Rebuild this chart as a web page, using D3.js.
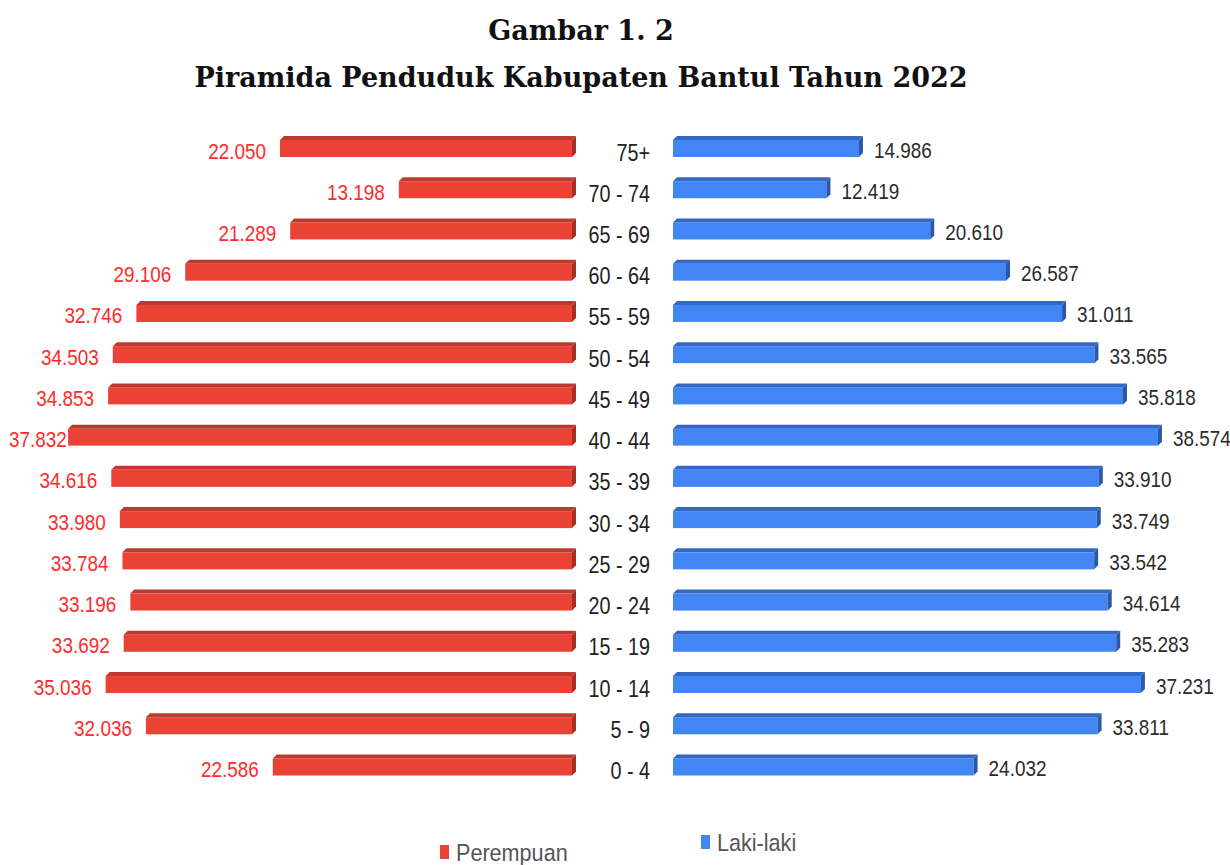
<!DOCTYPE html>
<html>
<head>
<meta charset="utf-8">
<script src="https://cdn.jsdelivr.net/npm/d3@7"></script>
<style>
  body { margin: 0; background: #fff; }
</style>
</head>
<body>
<div id="chart"></div>
<script>
// Age groups, top to bottom
var ageGroups = ['75+', '70 - 74', '65 - 69', '60 - 64', '55 - 59', '50 - 54', '45 - 49', '40 - 44',
  '35 - 39', '30 - 34', '25 - 29', '20 - 24', '15 - 19', '10 - 14', '5 - 9', '0 - 4'];

// Perempuan (female)
var femaleValues = [22050, 13198, 21289, 29106, 32746, 34503, 34853, 37832,
  34616, 33980, 33784, 33196, 33692, 35036, 32036, 22586];

// Laki-laki (male)
var maleValues = [14986, 12419, 20610, 26587, 31011, 33565, 35818, 38574,
  33910, 33749, 33542, 34614, 35283, 37231, 33811, 24032];

var seriesNames = ['Perempuan', 'Laki-laki'];

var attrs = {
  svgWidth: 1230,
  svgHeight: 865,
  femaleColor: '#ea4335',
  femaleTop: '#bf3a2e',
  femaleSide: '#a52f25',
  maleColor: '#4285f4',
  maleTop: '#3568c4',
  maleSide: '#2c58a8',
  depth: 4,
  barHeight: 21,
  labelFont: '"Liberation Sans", Arial, sans-serif',
  squeeze: 0.86
};

var svg = d3.select('#chart').append('svg')
  .attr('width', attrs.svgWidth)
  .attr('height', attrs.svgHeight);

// Title
var title = svg.append('g').attr('class', 'title')
  .attr('font-family', '"DejaVu Serif", serif')
  .attr('font-weight', 'bold')
  .attr('text-anchor', 'middle')
  .attr('fill', '#111');
title.append('text').attr('x', 581).attr('y', 40).attr('font-size', 27).text('Gambar 1. 2');
title.append('text').attr('x', 581).attr('y', 87).attr('font-size', 27).text('Piramida Penduduk Kabupaten Bantul Tahun 2022');

// Scales
var y = d3.scalePoint().domain(ageGroups).range([146.5, 765]);
var xF = d3.scaleLinear().domain([0, 40000]).range([576, 576 - 537]);
var xM = d3.scaleLinear().domain([0, 40000]).range([673, 673 + 507]);

var rows = ageGroups.map(function (g, i) {
  return { group: g, female: femaleValues[i], male: maleValues[i] };
});

var fmt = function (v) { return d3.format(',')(v).replace(/,/g, '.'); };

// condensed text (horizontal squeeze, narrow font not installed)
function squeezedText(sel, x, yy, anchor, size, color, str) {
  var t = sel.append('text')
    .attr('transform', 'translate(' + x + ',' + yy + ') scale(' + attrs.squeeze + ',1)')
    .attr('text-anchor', anchor)
    .attr('font-family', attrs.labelFont)
    .attr('font-size', size)
    .attr('fill', color)
    .text(str);
  return t;
}

// 3D-ish bar: face + top bevel + right side
function bar3d(sel, x0, x1, yc, face, top, side) {
  var d = attrs.depth, h = attrs.barHeight;
  var yt = yc - h / 2, yb = yc + h / 2;
  sel.append('rect')
    .attr('x', x0).attr('y', yt + d)
    .attr('width', x1 - d - x0).attr('height', h - d)
    .attr('fill', face);
  sel.append('path')
    .attr('d', 'M' + x0 + ',' + (yt + d) + 'L' + (x0 + d) + ',' + yt + 'L' + x1 + ',' + yt + 'L' + (x1 - d) + ',' + (yt + d) + 'Z')
    .attr('fill', top);
  sel.append('path')
    .attr('d', 'M' + (x1 - d) + ',' + (yt + d) + 'L' + x1 + ',' + yt + 'L' + x1 + ',' + (yb - d) + 'L' + (x1 - d) + ',' + yb + 'Z')
    .attr('fill', side);
}

var rowG = svg.append('g').attr('class', 'rows')
  .selectAll('g').data(rows).enter().append('g');

rowG.each(function (r) {
  var g = d3.select(this);
  var yc = y(r.group);
  bar3d(g, xF(r.female), xF(0), yc, attrs.femaleColor, attrs.femaleTop, attrs.femaleSide);
  bar3d(g, xM(0), xM(r.male), yc, attrs.maleColor, attrs.maleTop, attrs.maleSide);

  // age label
  squeezedText(g, 650, yc + 14, 'end', 23, '#222', r.group);

  // female value (kept inside the left edge like the original)
  var ft = squeezedText(g, 0, yc + 12, 'end', 22, '#ff2a2a', fmt(r.female));
  var w = ft.node().getComputedTextLength() * attrs.squeeze;
  var endX = xF(r.female) - 14;
  if (endX - w < 9) endX = 9 + w;
  ft.attr('transform', 'translate(' + endX + ',' + (yc + 12) + ') scale(' + attrs.squeeze + ',1)');

  // male value
  squeezedText(g, xM(r.male) + 11, yc + 11, 'start', 22, '#2b2b2b', fmt(r.male));
});

// Legend
var legend = svg.append('g').attr('class', 'legend');
var legendItems = [
  { name: seriesNames[0], color: attrs.femaleColor, x: 440, y: 845 },
  { name: seriesNames[1], color: attrs.maleColor, x: 701, y: 835 }
];
legendItems.forEach(function (d) {
  legend.append('rect').attr('x', d.x).attr('y', d.y).attr('width', 9).attr('height', 14).attr('fill', d.color);
  legend.append('text')
    .attr('transform', 'translate(' + (d.x + 16) + ',' + (d.y + 16) + ') scale(0.9,1)')
    .attr('font-family', attrs.labelFont)
    .attr('font-size', 24)
    .attr('fill', '#555')
    .text(d.name);
});
</script>
</body>
</html>
